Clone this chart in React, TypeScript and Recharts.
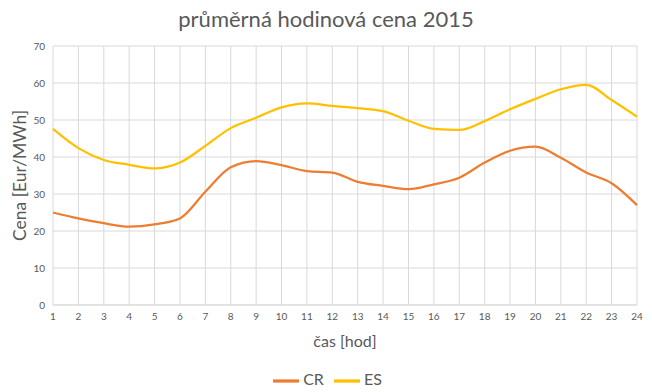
import {LineChart, Line, XAxis, YAxis, CartesianGrid, Legend, Label} from "recharts";

const hours = [1, 2, 3, 4, 5, 6, 7, 8, 9, 10, 11, 12, 13, 14, 15, 16, 17, 18, 19, 20, 21, 22, 23, 24];
const crValues = [25, 23.4, 22.1, 21.2, 21.8, 23.4, 30.6, 37.2, 38.9, 37.8, 36.2, 35.8, 33.3, 32.2, 31.3, 32.6, 34.4, 38.5, 41.7, 42.8, 39.8, 35.8, 32.9, 27];
const esValues = [47.6, 42.4, 39.2, 37.9, 36.9, 38.5, 43, 47.8, 50.6, 53.4, 54.5, 53.8, 53.2, 52.4, 49.8, 47.6, 47.3, 49.7, 52.9, 55.7, 58.3, 59.5, 55.4, 50.9];
const yTicks = [0, 10, 20, 30, 40, 50, 60, 70];

const data = hours.map((h, i) => ({hour: h, CR: crValues[i], ES: esValues[i]}));

const font = "Lato, 'Open Sans', sans-serif";
const textColor = "#595959";

export default function App() {
    return (
        <div style={{position: "absolute", left: 0, top: 0, width: 652, height: 392, background: "#fff", fontFamily: font}}>
            <div style={{position: "absolute", top: 5, width: 652, textAlign: "center", fontSize: 22, color: textColor}}>
                průměrná hodinová cena 2015
            </div>
            <LineChart width={652} height={392} data={data} margin={{top: 46, right: 15, left: 0, bottom: 0}}>
                <CartesianGrid stroke="#d9d9d9" strokeWidth={1}/>
                <XAxis
                    dataKey="hour"
                    interval={0}
                    tickLine={false}
                    axisLine={{stroke: "#d9d9d9"}}
                    tick={{fill: textColor, fontSize: 10, fontFamily: font}}
                    height={50}
                >
                    <Label value="čas [hod]" position="insideBottom" offset={8} style={{fill: textColor, fontSize: 16, fontFamily: font}}/>
                </XAxis>
                <YAxis
                    domain={[0, 70]}
                    ticks={yTicks}
                    width={53}
                    tickLine={false}
                    axisLine={false}
                    tick={{fill: textColor, fontSize: 10, fontFamily: font}}
                >
                    <Label value="Cena [Eur/MWh]" angle={-90} position="insideLeft" offset={20} style={{fill: textColor, fontSize: 17.5, fontFamily: font, textAnchor: "middle"}}/>
                </YAxis>
                <Legend
                    verticalAlign="bottom"
                    height={37}
                    iconSize={26}
                    wrapperStyle={{top: 368, left: 14, fontSize: 16, fontFamily: font, color: textColor}}
                    formatter={(value) => <span style={{color: textColor}}>{value}</span>}
                />
                <Line type="monotone" dataKey="CR" stroke="#ED7D31" strokeWidth={2.25} dot={false} legendType="plainline" isAnimationActive={false}/>
                <Line type="monotone" dataKey="ES" stroke="#FFC000" strokeWidth={2.25} dot={false} legendType="plainline" isAnimationActive={false}/>
            </LineChart>
        </div>
    );
}
